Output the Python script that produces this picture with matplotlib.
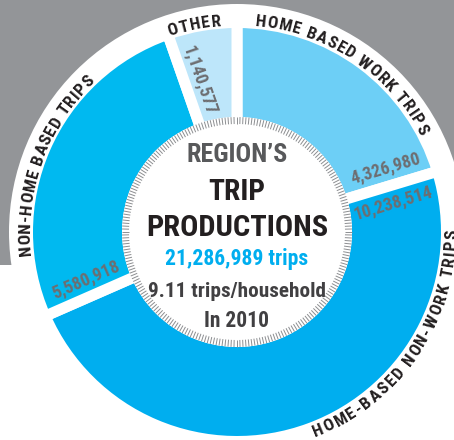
import numpy as np
import matplotlib
matplotlib.use("Agg")
import matplotlib.pyplot as plt
from matplotlib import font_manager
from matplotlib.font_manager import FontProperties, findfont, get_font
from matplotlib.patches import Circle, Rectangle
from matplotlib.collections import LineCollection
from matplotlib.textpath import TextToPath

# ---------------- data ----------------
categories = ["HOME BASED WORK TRIPS", "HOME-BASED NON-WORK TRIPS",
              "NON-HOME BASED TRIPS", "OTHER"]
values = [4326980, 10238514, 5580918, 1140577]
value_labels = ["4,326,980", "10,238,514", "5,580,918", "1,140,577"]
colors = ["#6dcff6", "#00aeef", "#00b9f0", "#bde6fa"]
title_lines = ["REGION\u2019S", "TRIP", "PRODUCTIONS"]
total_label = "21,286,989 trips"
household_label = "9.11 trips/household"
year_label = "In 2010"

# ---------------- fonts ----------------
fl = font_manager.fontManager.ttflist
names = {f.name for f in fl}
FAM, STRETCH = "Roboto", "normal"
for cand in ["Liberation Sans Narrow", "Roboto Condensed", "Open Sans Condensed"]:
    if cand in names:
        FAM = cand
        break
else:
    if any(f.name == "DejaVu Sans" and str(f.stretch) in ("condensed", "semi-condensed")
           and f.weight in ("bold", 700) for f in fl):
        FAM, STRETCH = "DejaVu Sans", "condensed"
    elif "Roboto" not in names:
        FAM = "DejaVu Sans"
DPI = 100
ttp = TextToPath()


def prop(size):
    return FontProperties(family=FAM, weight="bold", stretch=STRETCH, size=size)


def fit_size(s, target_px):
    w = ttp.get_text_width_height_descent(s, prop(10), ismath=False)[0]
    return 10 * target_px / (w * DPI / 72)


# ---------------- figure ----------------
fig = plt.figure(figsize=(4.54, 4.40), dpi=DPI)
ax = fig.add_axes([0, 0, 1, 1])
CX, CY = 237, 208
R_OUT, R_IN = 204, 115
GAP = 11

ax.add_patch(Rectangle((0, 175), 454, 265, color="#939598", zorder=0, lw=0))
ax.add_patch(Circle((CX, CY), 228, color="white", zorder=1, lw=0))

wedges, _ = ax.pie(values, colors=colors, startangle=90, counterclock=False,
                   radius=R_OUT + GAP / 2, center=(CX, CY),
                   wedgeprops=dict(width=(R_OUT - R_IN) + GAP, edgecolor="white",
                                   linewidth=GAP * 72 / DPI))
for w in wedges:
    w.set_zorder(2)

# inner disk with tick ring
ax.add_patch(Circle((CX, CY), R_IN, color="white", zorder=3, lw=0))
ang = np.linspace(0, 2 * np.pi, 240, endpoint=False)
segs = [[(CX + 108 * np.cos(a), CY + 108 * np.sin(a)),
         (CX + R_IN * np.cos(a), CY + R_IN * np.sin(a))] for a in ang]
ax.add_collection(LineCollection(segs, colors="#8c8e91", linewidths=0.7, zorder=4))

# boundaries (deg)
frac = np.array(values) / np.sum(values)
bounds = 90 - 360 * np.concatenate([[0], np.cumsum(frac)])

# value labels: (boundary index, along, perp, direction)
vspec = [(1, 161, 18, "out"), (1, 158, -17, "out"), (2, 158, -17, "in"), (3, 155, -15, "in")]
vsize = fit_size(value_labels[0], 72)
for lab, (bi, along, perp, d) in zip(value_labels, vspec):
    th = np.deg2rad(bounds[bi])
    u = np.array([np.cos(th), np.sin(th)])
    n = np.array([-np.sin(th), np.cos(th)])
    p = np.array([CX, CY]) + along * u + perp * n
    rot = bounds[bi] if d == "out" else bounds[bi] - 180
    ax.text(p[0], p[1], lab, fontproperties=prop(vsize), color="#6d6e71",
            rotation=rot, rotation_mode="anchor", ha="center", va="center", zorder=5)

# curved category labels
R_MID = 213
CSIZE = 12.5


def curved(text, start, end, clockwise):
    pr = prop(CSIZE)
    font = get_font(findfont(pr))
    font.set_size(CSIZE, DPI)
    adv = [font.load_char(ord(c)).linearHoriAdvance / 65536 for c in text]
    cap = CSIZE * DPI / 72 * 0.71
    n = len(text)
    L = R_MID * np.deg2rad(abs(end - start))
    base = sum(adv[:n - 1]) + adv[-1] / 2 - adv[0] / 2
    track = (L - base) / (n - 1)
    c0 = adv[0] / 2
    sgn = -1 if clockwise else 1
    for i, ch in enumerate(text):
        ci = sum(adv[:i]) + adv[i] / 2 + i * track
        phi = start + sgn * np.rad2deg((ci - c0) / R_MID)
        rb = R_MID - cap / 2 if clockwise else R_MID + cap / 2
        x = CX + rb * np.cos(np.deg2rad(phi))
        y = CY + rb * np.sin(np.deg2rad(phi))
        rot = phi - 90 if clockwise else phi + 90
        ax.text(x, y, ch, fontproperties=pr, color="#231f20", rotation=rot,
                rotation_mode="anchor", ha="center", va="baseline", zorder=6)


curved(categories[3], 107.6, 95.7, True)
curved(categories[0], 83.5, 29.0, True)
curved(categories[2], 184.9, 134.6, True)
curved(categories[1], -67.7, -0.5, False)

# center text
center_lines = [
    (title_lines[0], 101, 278, "#58595b"),
    (title_lines[1], 57, 240, "#231f20"),
    (title_lines[2], 182, 204, "#231f20"),
    (total_label, 143, 175, "#00aeef"),
    (household_label, 178, 143, "#414042"),
    (year_label, 65, 113, "#414042"),
]
for s, wpx, yb, col in center_lines:
    ax.text(CX, yb, s, fontproperties=prop(fit_size(s, wpx)), color=col,
            ha="center", va="baseline", zorder=7)

ax.set_xlim(0, 454)
ax.set_ylim(0, 440)
ax.set_aspect("equal")
ax.axis("off")
fig.savefig("out.png", dpi=DPI)
